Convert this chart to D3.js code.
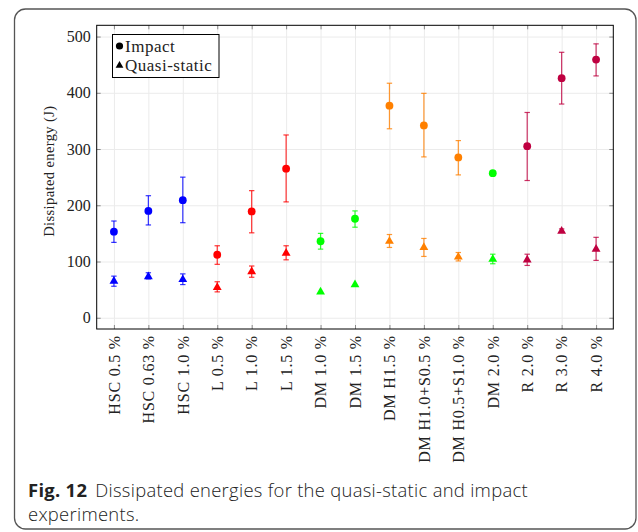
<!DOCTYPE html>
<html>
<head>
<meta charset="utf-8">
<script src="https://cdn.jsdelivr.net/npm/d3@7"></script>
<style>
  body { margin: 0; background: #fff; }
  svg { display: block; }
  .serif { font-family: "Liberation Serif", "DejaVu Serif", serif; fill: #222; }
  .caption { font-family: "Open Sans", "Noto Sans", sans-serif; fill: #222; }
</style>
</head>
<body>
<div id="chart"></div>
<script>
// categories along the x axis
var categories = ["HSC 0.5 %", "HSC 0.63 %", "HSC 1.0 %", "L 0.5 %", "L 1.0 %", "L 1.5 %",
  "DM 1.0 %", "DM 1.5 %", "DM H1.5 %", "DM H1.0+S0.5 %", "DM H0.5+S1.0 %", "DM 2.0 %",
  "R 2.0 %", "R 3.0 %", "R 4.0 %"];
var groups = ["HSC", "HSC", "HSC", "L", "L", "L", "DM", "DM", "DMH", "DMH", "DMH", "DM", "R", "R", "R"];

// impact (circles)
var impactValues = [153, 190, 209, 112, 189, 265, 136, 176, 377, 342, 285, 257, 305, 426, 459];
var impactLow    = [134, 165, 169,  95, 151, 206, 122, 161, 336, 286, 254, null, 244, 380, 430];
var impactHigh   = [172, 217, 250, 128, 226, 325, 150, 190, 417, 399, 315, null, 365, 472, 487];

// quasi-static (triangles)
var quasiValues = [65, 73, 68, 54, 82, 115, 46, 59, 136, 125, 108, 104, 103, 154, 122];
var quasiLow    = [56, 69, 59, 46, 72, 103, null, null, 125, 109, 101, 96, 93, 152, 102];
var quasiHigh   = [74, 80, 78, 64, 92, 128, null, null, 148, 141, 116, 113, 113, 158, 143];

var yTicks = [0, 100, 200, 300, 400, 500];

var width = 638;
var height = 532;

var plotLeft = 96.7, plotRight = 613.3, plotTop = 25.3, plotBottom = 329;

var colorOf = d3.scaleOrdinal()
  .domain(["HSC", "L", "DM", "DMH", "R"])
  .range(["#0000ff", "#ff0000", "#00ff00", "#ff8000", "#bf0040"]);

var x_axis = d3.scalePoint().domain(categories).range([plotLeft, plotRight]).padding(0.5);
var y_axis = d3.scaleLinear().domain([-20, 520]).range([plotBottom, plotTop]);

var svg = d3.select("#chart").append("svg")
  .attr("width", width)
  .attr("height", height);

svg.append("rect")
  .attr("width", width).attr("height", height).attr("fill", "#fff");

// outer frame of the figure
svg.append("rect")
  .attr("x", 14.5).attr("y", 9)
  .attr("width", 621.5).attr("height", 520)
  .attr("rx", 11)
  .attr("fill", "none")
  .attr("stroke", "#555")
  .attr("stroke-width", 1.3);

// grid
svg.append("g")
  .attr("transform", "translate(0," + plotBottom + ")")
  .call(d3.axisBottom(x_axis).tickSize(-(plotBottom - plotTop)).tickFormat(""))
  .call(function(g) { g.select(".domain").remove(); })
  .selectAll("line").attr("stroke", "#ebebeb");

svg.append("g")
  .attr("transform", "translate(" + plotLeft + ",0)")
  .call(d3.axisLeft(y_axis).tickValues(yTicks).tickSize(-(plotRight - plotLeft)).tickFormat(""))
  .call(function(g) { g.select(".domain").remove(); })
  .selectAll("line").attr("stroke", "#ebebeb");

// inner tick marks on all four sides
function innerTicks(axis, tx, ty) {
  svg.append("g")
    .attr("transform", "translate(" + tx + "," + ty + ")")
    .call(axis.tickSize(-4).tickFormat(""))
    .call(function(g) { g.select(".domain").remove(); })
    .selectAll("line").attr("stroke", "#8a8a8a");
}
innerTicks(d3.axisBottom(x_axis), 0, plotBottom);
innerTicks(d3.axisTop(x_axis), 0, plotTop);
innerTicks(d3.axisLeft(y_axis).tickValues(yTicks), plotLeft, 0);
innerTicks(d3.axisRight(y_axis).tickValues(yTicks), plotRight, 0);

// tick labels
svg.append("g")
  .attr("transform", "translate(" + plotLeft + ",0)")
  .call(d3.axisLeft(y_axis).tickValues(yTicks).tickSize(0).tickPadding(6))
  .call(function(g) { g.select(".domain").remove(); })
  .selectAll("text")
  .attr("class", "serif")
  .style("font-size", "16px")
  .attr("fill", "#222");

svg.append("g")
  .attr("transform", "translate(0," + plotBottom + ")")
  .call(d3.axisBottom(x_axis).tickSize(0))
  .call(function(g) { g.select(".domain").remove(); })
  .selectAll("text")
  .attr("class", "serif")
  .style("font-size", "16px")
  .style("letter-spacing", "0.8px")
  .style("text-anchor", "end")
  .attr("fill", "#222")
  .attr("x", -6)
  .attr("y", 0)
  .attr("dy", "0.33em")
  .attr("transform", "rotate(-90)");

// axis frame
svg.append("rect")
  .attr("x", plotLeft).attr("y", plotTop)
  .attr("width", plotRight - plotLeft).attr("height", plotBottom - plotTop)
  .attr("fill", "none")
  .attr("stroke", "#000")
  .attr("stroke-width", 1);

svg.append("text")
  .attr("class", "serif")
  .attr("transform", "translate(54," + ((plotTop + plotBottom) / 2 - 6) + ") rotate(-90)")
  .attr("text-anchor", "middle")
  .style("font-size", "14.5px")
  .style("letter-spacing", "0.4px")
  .text("Dissipated energy (J)");

// data rows
function rows(values, lo, hi) {
  return categories.map(function(c, i) {
    return { cat: c, group: groups[i], v: values[i], lo: lo[i], hi: hi[i] };
  });
}
var impact = rows(impactValues, impactLow, impactHigh);
var quasi = rows(quasiValues, quasiLow, quasiHigh);

function errorBars(data) {
  var g = svg.append("g").selectAll("g")
    .data(data.filter(function(d) { return d.lo != null; }))
    .enter().append("g")
    .attr("stroke", function(d) { return colorOf(d.group); })
    .attr("stroke-opacity", 0.8)
    .attr("stroke-width", 1.2);
  g.append("line")
    .attr("x1", function(d) { return x_axis(d.cat); })
    .attr("x2", function(d) { return x_axis(d.cat); })
    .attr("y1", function(d) { return y_axis(d.lo); })
    .attr("y2", function(d) { return y_axis(d.hi); });
  ["lo", "hi"].forEach(function(k) {
    g.append("line")
      .attr("x1", function(d) { return x_axis(d.cat) - 2.7; })
      .attr("x2", function(d) { return x_axis(d.cat) + 2.7; })
      .attr("y1", function(d) { return y_axis(d[k]); })
      .attr("y2", function(d) { return y_axis(d[k]); });
  });
}
errorBars(impact);
errorBars(quasi);

svg.append("g").selectAll("circle")
  .data(impact)
  .enter().append("circle")
  .attr("cx", function(d) { return x_axis(d.cat); })
  .attr("cy", function(d) { return y_axis(d.v); })
  .attr("r", 3.9)
  .attr("fill", function(d) { return colorOf(d.group); });

var tri = d3.symbol().type(d3.symbolTriangle).size(34);
svg.append("g").selectAll("path")
  .data(quasi)
  .enter().append("path")
  .attr("d", tri)
  .attr("transform", function(d) { return "translate(" + x_axis(d.cat) + "," + y_axis(d.v) + ")"; })
  .attr("fill", function(d) { return colorOf(d.group); });

// legend
var legend = svg.append("g");
legend.append("rect")
  .attr("x", 112.5).attr("y", 34.5)
  .attr("width", 106.5).attr("height", 43)
  .attr("fill", "#fff").attr("stroke", "#000").attr("stroke-width", 1);
legend.append("circle").attr("cx", 119.5).attr("cy", 46).attr("r", 3.6).attr("fill", "#000");
legend.append("path").attr("d", d3.symbol().type(d3.symbolTriangle).size(26))
  .attr("transform", "translate(119.5,65.5)").attr("fill", "#000");
legend.append("text").attr("class", "serif").attr("x", 125).attr("y", 51.5)
  .style("font-size", "17px").style("letter-spacing", "0.5px").text("Impact");
legend.append("text").attr("class", "serif").attr("x", 125).attr("y", 70.5)
  .style("font-size", "17px").style("letter-spacing", "0.5px").text("Quasi-static");

// caption
var cap = svg.append("text").attr("class", "caption")
  .attr("x", 28).attr("y", 496.5)
  .style("font-size", "18.4px").style("letter-spacing", "0.3px");
cap.append("tspan").style("font-weight", "bold").text("Fig. 12");
cap.append("tspan").attr("dx", 8).style("font-weight", 300)
  .text("Dissipated energies for the quasi-static and impact");
svg.append("text").attr("class", "caption")
  .attr("x", 28).attr("y", 521)
  .style("font-size", "18.4px").style("letter-spacing", "0.3px").style("font-weight", 300)
  .text("experiments.");
</script>
</body>
</html>
